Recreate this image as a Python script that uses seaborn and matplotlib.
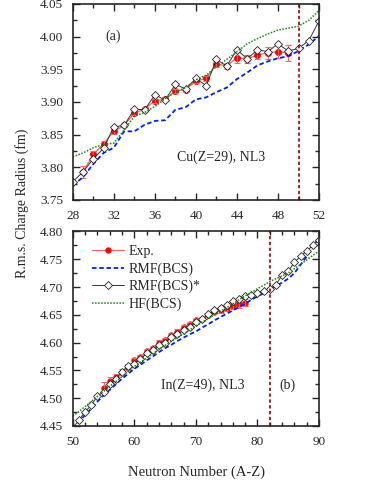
import numpy as np
import pandas as pd
import matplotlib
matplotlib.use("Agg")
import matplotlib.pyplot as plt
from matplotlib.ticker import MultipleLocator, FormatStrFormatter
import seaborn as sns

# ---- Cu (Z=29) ----
cu_n = list(range(28, 53))
cu_rmf = [3.772, 3.785, 3.805, 3.822, 3.830, 3.855, 3.855, 3.865, 3.871, 3.872, 3.888, 3.892, 3.904,
          3.907, 3.915, 3.922, 3.935, 3.945, 3.956, 3.962, 3.967, 3.970, 3.978, 3.988, 4.001]
cu_rmf_star = [3.778, 3.793, 3.813, 3.829, 3.862, 3.864, 3.889, 3.888, 3.911, 3.903, 3.927, 3.920, 3.936,
               3.925, 3.965, 3.955, 3.980, 3.966, 3.980, 3.977, 3.989, 3.978, 3.982, 3.994, 4.024]
cu_hf = [3.816, 3.822, 3.830, 3.835, 3.837, 3.857, 3.878, 3.884, 3.893, 3.905, 3.915, 3.922, 3.934,
         3.941, 3.954, 3.965, 3.977, 3.989, 3.997, 4.004, 4.010, 4.013, 4.016, 4.025, 4.040]
cu_exp_n = list(range(29, 50))
cu_exp = [3.793, 3.820, 3.836, 3.855, 3.864, 3.883, 3.889, 3.902, 3.904, 3.917, 3.919, 3.932, 3.936,
          3.958, 3.955, 3.968, 3.966, 3.972, 3.975, 3.977, 3.975]
cu_err = [0.009, 0.005, 0.005, 0.004, 0.003, 0.003, 0.003, 0.003, 0.003, 0.003, 0.003, 0.003, 0.004,
          0.005, 0.004, 0.008, 0.006, 0.007, 0.009, 0.010, 0.012]

# ---- In (Z=49) ----
in_n = list(range(50, 91))
in_rmf = [4.445, 4.457, 4.470, 4.481, 4.494, 4.505, 4.515, 4.525, 4.535, 4.544, 4.553, 4.560, 4.568,
          4.575, 4.583, 4.590, 4.596, 4.603, 4.609, 4.615, 4.620, 4.627, 4.633, 4.640, 4.646, 4.652,
          4.658, 4.664, 4.670, 4.677, 4.683, 4.689, 4.695, 4.702, 4.708, 4.715, 4.725, 4.740, 4.755,
          4.772, 4.790]
in_rmf_star = [4.447, 4.460, 4.476, 4.487, 4.504, 4.511, 4.525, 4.535, 4.548, 4.558, 4.562, 4.570, 4.581,
               4.586, 4.595, 4.600, 4.610, 4.615, 4.622, 4.628, 4.638, 4.642, 4.651, 4.658, 4.663, 4.667,
               4.675, 4.678, 4.683, 4.686, 4.690, 4.692, 4.697, 4.704, 4.722, 4.728, 4.745, 4.755, 4.765,
               4.775, 4.785]
in_hf = [4.468, 4.476, 4.485, 4.494, 4.503, 4.512, 4.521, 4.530, 4.539, 4.548, 4.557, 4.565, 4.572,
         4.580, 4.588, 4.595, 4.602, 4.609, 4.616, 4.623, 4.630, 4.637, 4.643, 4.650, 4.656, 4.663,
         4.670, 4.677, 4.684, 4.690, 4.697, 4.703, 4.710, 4.715, 4.720, 4.725, 4.733, 4.741, 4.749,
         4.757, 4.765]
in_exp_n = list(range(55, 79))
in_exp = [4.519, 4.531, 4.538, 4.547, 4.556, 4.568, 4.574, 4.585, 4.590, 4.600, 4.604, 4.614, 4.620,
          4.628, 4.633, 4.640, 4.643, 4.650, 4.655, 4.659, 4.662, 4.666, 4.669, 4.672]
in_err = [0.010, 0.008, 0.006, 0.006, 0.005, 0.005, 0.004, 0.004, 0.004, 0.004, 0.004, 0.004, 0.004,
          0.004, 0.004, 0.004, 0.004, 0.004, 0.004, 0.005, 0.006, 0.006, 0.006, 0.006]

sns.set_style("ticks")
plt.rcParams['font.family'] = ['Liberation Serif', 'DejaVu Serif']
plt.rcParams['font.size'] = 9

fig = plt.figure(figsize=(3.83, 4.95), dpi=100)
ax1 = fig.add_axes([0.19, 0.596, 0.643, 0.396])
ax2 = fig.add_axes([0.19, 0.1394, 0.643, 0.393])

RED = "#ff0000"
LRED = "#ff6060"


def draw(ax, n, rmf, star, hf, en, ex, er, ms):
    sns.lineplot(x=en, y=ex, ax=ax, color=LRED, lw=0.9, marker="o", markersize=ms,
                 markerfacecolor=RED, markeredgecolor=RED, label="Exp.")
    ax.errorbar(en, ex, yerr=er, fmt="none", ecolor=LRED, elinewidth=0.8, capsize=2, capthick=0.8)
    sns.lineplot(x=n, y=rmf, ax=ax, color="#0022ee", lw=1.3, linestyle=(0, (2.5, 1.5)), label="RMF(BCS)")
    sns.lineplot(x=n, y=star, ax=ax, color="#333333", lw=0.7, marker="D", markersize=ms,
                 markerfacecolor="white", markeredgecolor="#222222", markeredgewidth=0.6,
                 label="RMF(BCS)*")
    sns.lineplot(x=n, y=hf, ax=ax, color="#118811", lw=1.1, linestyle=(0, (1, 1)), label="HF(BCS)")


draw(ax1, cu_n, cu_rmf, cu_rmf_star, cu_hf, cu_exp_n, cu_exp, cu_err, 4.2)
draw(ax2, in_n, in_rmf, in_rmf_star, in_hf, in_exp_n, in_exp, in_err, 3.8)

ax1.axvline(50, color="#990000", lw=1.2, ls=(0, (2, 1.5)))
ax2.axvline(82, color="#990000", lw=1.2, ls=(0, (2, 1.5)))

ax1.set_xlim(28, 52)
ax1.set_ylim(3.75, 4.05)
ax1.xaxis.set_major_locator(MultipleLocator(4))
ax1.xaxis.set_minor_locator(MultipleLocator(2))
ax1.yaxis.set_major_locator(MultipleLocator(0.05))
ax1.yaxis.set_minor_locator(MultipleLocator(0.025))
ax1.yaxis.set_major_formatter(FormatStrFormatter("%.2f"))
ax1.get_legend().remove()

ax2.set_xlim(50, 90)
ax2.set_ylim(4.45, 4.80)
ax2.xaxis.set_major_locator(MultipleLocator(10))
ax2.xaxis.set_minor_locator(MultipleLocator(2))
ax2.yaxis.set_major_locator(MultipleLocator(0.05))
ax2.yaxis.set_minor_locator(MultipleLocator(0.025))
ax2.yaxis.set_major_formatter(FormatStrFormatter("%.2f"))
ax2.legend(loc="upper left", frameon=False, fontsize=10, handlelength=2.3,
           borderaxespad=0.0, borderpad=0.0, labelspacing=0.3, handletextpad=0.35,
           bbox_to_anchor=(0.077, 0.93))

for ax in (ax1, ax2):
    ax.tick_params(which="both", direction="in", top=True, right=True, labelsize=9.5)
    ax.tick_params(which="major", length=5, width=1, pad=7)
    ax.tick_params(which="minor", length=3, width=1)
    for s in ax.spines.values():
        s.set_linewidth(1.2)
    ax.set_xlabel("")
    ax.set_ylabel("")

ax1.text(31.9, 4.0, "(a)", fontsize=10, ha="center", va="center")
ax1.text(42.5, 3.816, "Cu(Z=29), NL3", fontsize=10, ha="center", va="center")
ax2.text(71.1, 4.524, "In(Z=49), NL3", fontsize=10, ha="center", va="center")
ax2.text(84.9, 4.524, "(b)", fontsize=10, ha="center", va="center")

fig.text(0.512, 0.0465, "Neutron Number (A-Z)", fontsize=10.5, ha="center", va="center")
fig.text(0.057, 0.59, "R.m.s. Charge Radius (fm)", rotation=90, fontsize=10,
         ha="center", va="center")

fig.savefig("out.png", dpi=100)
